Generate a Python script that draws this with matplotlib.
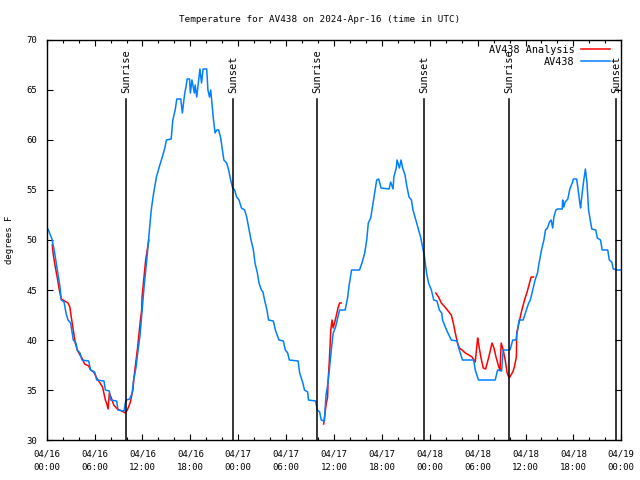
import numpy as np
import pandas as pd
import matplotlib
matplotlib.use('Agg')
import matplotlib.pyplot as plt
import matplotlib.dates as mdates

plt.rcParams['font.family'] = 'DejaVu Sans Mono'
plt.rcParams['font.size'] = 6.5

start = pd.Timestamp('2024-04-16 00:00')

# AV438 observations (hours after 04/16 00:00 UTC, degrees F)
obs_hours = [0.0, 0.16, 0.66, 1.0, 1.33, 1.67, 1.83, 2.17, 2.42, 2.67,
             3.0, 3.33, 3.67, 3.83, 4.17, 4.42, 5.26, 5.5, 6.0, 6.27,
             7.18, 7.35, 7.85, 8.0, 8.77, 8.93, 9.69, 9.85, 10.0, 10.4,
             10.7, 10.9, 11.2, 11.4, 11.7, 12.2, 12.5, 12.8, 13.1, 13.4,
             13.75, 14.1, 14.45, 14.8, 15.0, 15.6, 15.8, 16.1, 16.3, 16.8,
             17.0, 17.3, 17.45, 17.6, 17.9, 18.0, 18.2, 18.5, 18.6, 18.8,
             19.05, 19.2, 19.4, 19.6, 20.05, 20.2, 20.4, 20.55, 20.7, 20.9,
             21.1, 21.3, 21.55, 21.8, 22.2, 22.55, 22.8, 23.05, 23.3, 23.55,
             23.8, 24.1, 24.4, 24.8, 25.06, 25.3, 25.6, 25.9, 26.1, 26.4,
             26.6, 26.9, 27.1, 27.3, 27.6, 27.8, 28.4, 28.65, 29.1, 29.65,
             29.9, 30.2, 30.4, 31.5, 31.7, 32.1, 32.3, 32.7, 32.8, 33.7,
             33.9, 34.2, 34.4, 34.8, 35.0, 35.25, 35.5, 35.7, 35.9, 36.2,
             36.4, 36.7, 37.4, 37.7, 37.9, 38.2, 39.2, 39.5, 39.85, 40.1,
             40.3, 40.6, 40.9, 41.1, 41.35, 41.6, 41.9, 42.9, 43.1, 43.4,
             43.5, 43.8, 43.9, 44.2, 44.4, 44.6, 44.9, 45.1, 45.4, 45.7,
             45.9, 46.25, 46.6, 46.85, 47.1, 47.3, 47.6, 47.85, 48.2, 48.5,
             48.9, 49.2, 49.5, 49.6, 50.1, 50.7, 51.4, 51.7, 52.1, 53.5,
             53.7, 54.1, 56.2, 56.5, 57.0, 57.2, 58.05, 58.4, 58.8, 59.0,
             59.2, 59.7, 60.1, 60.4, 60.6, 60.9, 61.2, 61.5, 61.7, 62.0,
             62.3, 62.5, 62.75, 63.0, 63.2, 63.4, 63.55, 63.8, 64.0, 64.6,
             64.65, 64.8, 64.97, 65.3, 65.55, 65.9, 66.0, 66.4, 66.6, 66.8,
             66.9, 67.1, 67.3, 67.5, 67.7, 67.9, 68.3, 68.8, 69.0, 69.4,
             69.6, 70.3, 70.5, 70.8, 71.0, 71.5, 72.0]
obs_temps = [51.0, 51.1, 50.1, 48.7, 47.0, 45.3, 44.0, 43.8, 42.7, 42.0,
             41.7, 40.0, 39.7, 39.0, 38.7, 38.0, 37.9, 37.0, 36.8, 36.0,
             35.9, 35.0, 34.9, 34.0, 33.9, 33.0, 32.9, 33.7, 34.0, 34.1,
             34.7, 36.0, 37.3, 38.7, 40.5, 45.3, 47.7, 50.3, 53.0, 54.7,
             56.3, 57.3, 58.2, 59.2, 60.0, 60.1, 62.0, 63.0, 64.1, 64.1,
             62.7, 64.7, 65.3, 66.1, 66.1, 64.7, 66.0, 64.7, 65.5, 64.3,
             66.0, 67.1, 65.7, 67.1, 67.1, 65.0, 64.3, 65.0, 63.7, 62.0,
             60.7, 61.0, 61.0, 60.2, 58.0, 57.7, 57.0, 56.0, 55.2, 55.0,
             54.3, 54.0, 53.2, 53.0, 52.3, 51.3, 50.0, 49.0, 47.7, 46.7,
             45.7, 45.0, 44.8, 44.0, 43.0, 42.0, 41.9, 41.0, 40.0, 39.9,
             39.0, 38.7, 38.0, 37.9, 36.7, 35.7, 35.0, 34.8, 34.0, 33.9,
             33.0, 32.8, 32.0, 31.9, 34.5, 35.7, 37.7, 39.3, 40.7, 41.3,
             42.0, 43.0, 43.0, 44.2, 45.5, 47.0, 47.0, 47.7, 48.7, 50.0,
             51.7, 52.2, 53.7, 54.7, 56.0, 56.1, 55.2, 55.1, 55.8, 55.1,
             56.3, 57.2, 58.0, 57.2, 58.0, 57.2, 56.5, 55.5, 54.3, 54.0,
             53.0, 52.0, 51.0, 50.3, 49.3, 48.5, 46.7, 45.7, 45.0, 44.0,
             43.9, 43.0, 42.7, 42.0, 41.0, 40.0, 39.9, 39.0, 38.0, 38.0,
             37.0, 36.0, 36.0, 37.0, 36.9, 39.0, 39.0, 40.0, 40.0, 41.0,
             42.0, 42.0, 43.0, 43.7, 44.0, 45.0, 46.0, 46.7, 47.7, 49.0,
             50.0, 51.0, 51.2, 51.8, 52.0, 51.2, 52.3, 53.0, 53.1, 53.1,
             54.0, 53.3, 53.8, 54.1, 55.1, 55.8, 56.1, 56.1, 55.0, 53.7,
             53.2, 54.7, 56.0, 57.1, 55.7, 53.0, 51.1, 51.0, 50.2, 50.0,
             49.0, 49.0, 48.0, 47.8, 47.1, 47.0, 47.0]

# AV438 Analysis, three separate pieces
ana1_hours = [0.7, 0.83, 1.08, 1.33, 1.58, 1.83, 2.25, 2.67, 2.9, 3.08,
              3.33, 3.58, 3.83, 4.17, 4.42, 4.76, 5.26, 5.5, 5.9, 6.27,
              6.68, 7.0, 7.35, 7.5, 7.7, 7.85, 8.1, 8.4, 8.85, 9.4,
              9.85, 10.1, 10.45, 10.8, 10.9, 11.2, 11.4, 11.7, 11.9, 11.95,
              12.4, 12.8]
ana1_temps = [49.5, 48.5, 47.3, 46.2, 45.0, 44.1, 43.9, 43.7, 43.3, 42.3,
              41.0, 39.7, 39.0, 38.5, 38.2, 37.6, 37.4, 37.0, 36.8, 36.2,
              35.7, 35.3, 34.0, 33.7, 33.1, 34.7, 34.2, 33.5, 33.1, 32.9,
              32.7, 33.0, 33.7, 35.0, 36.0, 38.0, 39.3, 41.7, 43.0, 44.3,
              48.0, 50.0]
ana2_hours = [34.7, 35.0, 35.2, 35.25, 35.4, 35.6, 35.75, 35.9, 36.1, 36.25,
              36.5, 36.7, 36.9]
ana2_temps = [31.6, 33.5, 34.3, 35.8, 37.7, 41.0, 42.0, 41.2, 41.8, 42.3,
              43.2, 43.7, 43.7]
ana3_hours = [48.75, 49.1, 49.45, 49.9, 50.3, 50.7, 50.95, 51.2, 51.45, 51.7,
              52.05, 52.45, 52.9, 53.3, 53.7, 54.0, 54.1, 54.4, 54.7, 55.0,
              55.3, 55.6, 55.8, 56.05, 56.3, 56.65, 56.8, 56.95, 57.2, 57.45,
              57.7, 57.95, 58.1, 58.4, 58.6, 58.85, 58.9, 59.2, 59.45, 59.7,
              59.95, 60.2, 60.5, 60.7, 61.0]
ana3_temps = [44.7, 44.3, 43.7, 43.3, 42.9, 42.5, 41.7, 40.7, 39.8, 39.2,
              39.0, 38.7, 38.5, 38.3, 37.8, 40.2, 39.7, 38.3, 37.2, 37.1,
              38.0, 39.0, 39.7, 39.2, 38.3, 37.3, 37.0, 39.7, 39.0, 38.0,
              36.7, 36.2, 36.4, 36.8, 37.3, 38.3, 40.7, 41.8, 42.7, 43.5,
              44.2, 44.8, 45.7, 46.3, 46.3]

sunrise = ['2024-04-16 09:58', '2024-04-17 09:55', '2024-04-18 09:58']
sunset = ['2024-04-16 23:23', '2024-04-17 23:19', '2024-04-18 23:23']


def to_time(hours):
    return start + pd.to_timedelta(np.array(hours), unit='h')


red = '#ff0000'
blue = '#0080ff'

fig = plt.figure(figsize=(6.4, 4.8), dpi=100)
ax = fig.add_axes([46.7 / 640, 40 / 480, 574.6 / 640, 400 / 480])

ax.plot(to_time(ana1_hours), ana1_temps, color=red, lw=1.1, label='AV438 Analysis')
ax.plot(to_time(ana2_hours), ana2_temps, color=red, lw=1.1)
ax.plot(to_time(ana3_hours), ana3_temps, color=red, lw=1.1)
ax.plot(to_time(obs_hours), obs_temps, color=blue, lw=1.1, label='AV438')

for t in sunrise:
    ax.plot([pd.Timestamp(t)] * 2, [30, 64.1], color='black', lw=1.1)
    ax.text(pd.Timestamp(t), 64.7, 'Sunrise', rotation=90, ha='center',
            va='bottom', fontsize=7.5)
for t in sunset:
    ax.plot([pd.Timestamp(t)] * 2, [30, 64.1], color='black', lw=1.1)
    ax.text(pd.Timestamp(t), 64.7, 'Sunset', rotation=90, ha='center',
            va='bottom', fontsize=7.5)

ax.set_xlim(start, start + pd.Timedelta(hours=72))
ax.set_ylim(30, 70)
ax.set_yticks(range(30, 71, 5))
ax.xaxis.set_major_locator(mdates.HourLocator(byhour=[0, 6, 12, 18]))
ax.xaxis.set_minor_locator(mdates.HourLocator(interval=2))
ax.xaxis.set_major_formatter(mdates.DateFormatter('%m/%d\n%H:%M'))
ax.tick_params(which='both', direction='in', top=True, right=True, width=0.8)
ax.tick_params(which='major', length=4)
ax.tick_params(which='minor', length=2)
ax.tick_params(axis='x', pad=7)
ax.tick_params(axis='y', pad=7)
for s in ax.spines.values():
    s.set_linewidth(1.0)

leg = ax.legend(loc='upper right', bbox_to_anchor=(1 - 11 / 574.6, 1 - 5 / 400),
                frameon=False, markerfirst=False, fontsize=7.3,
                handlelength=2.9, handletextpad=0.6, labelspacing=0.2,
                borderaxespad=0, borderpad=0)

fig.text(0.5, 1 - 20 / 480, 'Temperature for AV438 on 2024-Apr-16 (time in UTC)',
         ha='center', va='center', fontsize=6.7)
fig.text(10 / 640, 0.5, 'degrees F', rotation=90, ha='center', va='center')

fig.canvas.draw()
for lab in ax.get_xticklabels():
    lab.set_linespacing(1.6)

fig.savefig('out.png', dpi=100)
